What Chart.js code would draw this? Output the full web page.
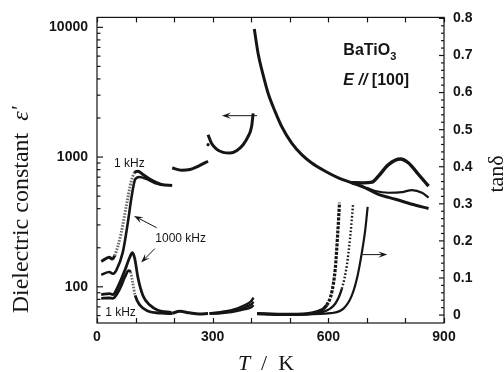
<!DOCTYPE html>
<html>
<head>
<meta charset="utf-8">
<script src="https://cdn.jsdelivr.net/npm/chart.js@4/dist/chart.umd.min.js"></script>
<style>
  html, body { margin: 0; padding: 0; background: #fff; }
  #wrap { width: 504px; height: 372px; }
</style>
</head>
<body>
<div id="wrap"><canvas id="c" width="504" height="372"></canvas></div>
<script>
// ---- Dielectric constant ε' (left, logarithmic axis) ----
const tEps1kLow   = [11, 32, 39, 46, 63, 76, 89, 97, 106, 119, 141, 167, 195];
const eps1kLow    = [157, 169, 164, 174, 262, 420, 652, 756, 778, 734, 664, 615, 605];
const tEps1MLow   = [11, 32, 41, 50, 67, 80, 90, 99, 110, 128, 150, 167];
const eps1MLow    = [124, 130, 126, 134, 185, 313, 501, 673, 703, 679, 631, 612];
const tEpsOrtho   = [195, 219, 241, 262, 288];
const epsOrtho    = [824, 792, 802, 849, 929];
const tEpsTetra   = [288, 297, 310, 327, 345, 362, 379, 392, 401, 405];
const epsTetra    = [1486, 1280, 1152, 1087, 1074, 1120, 1245, 1442, 1718, 2172];
const tEpsDot     = [288];
const epsDot      = [1245];
const tEpsCubic   = [408, 418, 431, 444, 462, 479, 505, 531, 557, 592, 626, 661, 696, 730, 774, 817, 860];
const epsCubic    = [9700, 6250, 4280, 3090, 2240, 1720, 1280, 1045, 900, 778, 692, 634, 580, 516, 473, 433, 401];
const tEpsHumpA   = [661, 690, 713, 730, 756, 787, 808, 834, 860];
const epsHumpA    = [634, 632, 640, 713, 875, 966, 900, 734, 597];
const tEpsHumpB   = [700, 722, 756, 791, 817, 843, 860];
const epsHumpB    = [580, 548, 531, 537, 557, 531, 487];

// ---- Loss tangent tanδ (right, linear axis) ----
const tTan1MLow   = [11, 32, 41, 54, 72, 85, 92, 98, 106, 119, 137, 158, 193];
const tan1MLow    = [0.055, 0.058, 0.055, 0.076, 0.120, 0.156, 0.168, 0.152, 0.102, 0.053, 0.027, 0.013, 0.007];
const tTan1kLow   = [11, 32, 41, 59, 72, 82, 87, 93, 99, 111, 132, 167, 195];
const tan1kLow    = [0.045, 0.046, 0.045, 0.071, 0.102, 0.120, 0.116, 0.085, 0.053, 0.027, 0.011, 0.005, 0.004];
const tTanOrtho   = [195, 215, 240, 265, 288];
const tanOrtho    = [0.005, 0.010, 0.006, 0.003, 0.004];
const tTanTetra   = [292, 320, 349, 384, 400, 406];
const tanTetraA   = [0.005, 0.008, 0.013, 0.027, 0.038, 0.047];
const tanTetraB   = [0.004, 0.006, 0.011, 0.021, 0.029, 0.036];
const tanTetraC   = [0.004, 0.005, 0.008, 0.016, 0.021, 0.027];
const tTanCubicA  = [415, 470, 518, 570, 596, 609, 618, 624, 629];
const tanCubicA   = [0.004, 0.002, 0.002, 0.009, 0.027, 0.062, 0.125, 0.214, 0.303];
const tTanCubicB  = [415, 520, 587, 618, 635, 648, 657, 664];
const tanCubicB   = [0.004, 0.002, 0.009, 0.031, 0.071, 0.134, 0.214, 0.297];
const tTanCubicC  = [415, 540, 605, 640, 661, 676, 687, 696, 702];
const tanCubicC   = [0.003, 0.002, 0.005, 0.018, 0.053, 0.107, 0.169, 0.232, 0.292];

// ---- Axis ticks ----
const xLabelTicks   = [0, 300, 600, 900];
const xMarkTicks    = [0, 100, 200, 300, 400, 500, 600, 700, 800, 900];
const epsLabelTicks = [100, 1000, 10000];
const epsMinorTicks = [60, 70, 80, 90, 200, 300, 400, 500, 600, 700, 800, 900,
                       2000, 3000, 4000, 5000, 6000, 7000, 8000, 9000];
const tanLabelTicks = [0, 0.1, 0.2, 0.3, 0.4, 0.5, 0.6, 0.7, 0.8];
const tanMinorTicks = [];
for (let i = 0; i <= 40; i++) if (i % 5) tanMinorTicks.push(i / 50);

const INK = '#151515';
const serif = '"Liberation Serif", "Times New Roman", serif';
const sans = '"Liberation Sans", Arial, sans-serif';

const pts = (xs, ys) => xs.map((x, i) => ({ x, y: ys[i] }));
const isSteep = c => Math.abs(c.p1.y - c.p0.y) > 2.5 * Math.abs(c.p1.x - c.p0.x);

function curve(xs, ys, axis, width, opts = {}) {
  const ds = {
    data: pts(xs, ys), yAxisID: axis,
    borderColor: INK, borderWidth: width,
    pointRadius: 0, tension: 0.4, cubicInterpolationMode: 'monotone',
    fill: false
  };
  if (opts.steepDash) {
    ds.segment = {
      borderDash: c => isSteep(c) ? opts.steepDash : undefined,
      borderColor: c => isSteep(c) ? (opts.steepColor || INK) : INK
    };
  }
  return ds;
}

const datasets = [
  curve(tEps1kLow, eps1kLow, 'eps', 3, { steepDash: [1.6, 1.4], steepColor: '#6a6a6a' }),
  curve(tEps1MLow, eps1MLow, 'eps', 2.6),
  curve(tEpsOrtho, epsOrtho, 'eps', 3),
  curve(tEpsTetra, epsTetra, 'eps', 3),
  { data: pts(tEpsDot, epsDot), yAxisID: 'eps', showLine: false,
    pointRadius: 1.6, pointBackgroundColor: INK, pointBorderWidth: 0 },
  curve(tEpsCubic, epsCubic, 'eps', 3),
  curve(tEpsHumpA, epsHumpA, 'eps', 3.4),
  curve(tEpsHumpB, epsHumpB, 'eps', 2.2),
  curve(tTan1MLow, tan1MLow, 'tan', 2.8),
  curve(tTan1kLow, tan1kLow, 'tan', 2.8, { steepDash: [1.6, 1.4], steepColor: '#6a6a6a' }),
  curve(tTanOrtho, tanOrtho, 'tan', 3),
  curve(tTanTetra, tanTetraA, 'tan', 2.4),
  curve(tTanTetra, tanTetraB, 'tan', 2.4),
  curve(tTanTetra, tanTetraC, 'tan', 2.4),
  curve(tTanCubicA, tanCubicA, 'tan', 3.2, { steepDash: [3, 1.3] }),
  curve(tTanCubicB, tanCubicB, 'tan', 2.4, { steepDash: [1.6, 2] }),
  curve(tTanCubicC, tanCubicC, 'tan', 2.2)
];

// Text labels and arrows, placed in data coordinates
const notes = [
  { text: '1 kHz',    x: 84,  y: 896,  axis: 'eps' },
  { text: '1000 kHz', x: 217, y: 235,  axis: 'eps' },
  { text: '1 kHz',    x: 61,  y: 62.7, axis: 'eps' }
];
const arrows = [
  { from: [155, 285],  to: [96, 352],   axis: 'eps' },
  { from: [150, 197],  to: [114.5, 154], axis: 'eps' },
  { from: [415, 2085], to: [324, 2085], axis: 'eps' },
  { from: [688, 0.163], to: [753, 0.163], axis: 'tan' }
];

function drawRuns(ctx, runs, x, y, align) {
  let total = 0;
  runs.forEach(r => { ctx.font = r.font; r.w = ctx.measureText(r.text).width + (r.gap || 0); total += r.w; });
  let cx = align === 'center' ? x - total / 2 : x;
  runs.forEach(r => { ctx.font = r.font; ctx.fillText(r.text, cx, y + (r.dy || 0)); cx += r.w; });
}

function arrow(ctx, x0, y0, x1, y1) {
  const ang = Math.atan2(y1 - y0, x1 - x0);
  const hl = 9, hw = 3.2;
  ctx.beginPath();
  ctx.moveTo(x0, y0);
  ctx.lineTo(x1 - Math.cos(ang) * hl * 0.6, y1 - Math.sin(ang) * hl * 0.6);
  ctx.stroke();
  ctx.beginPath();
  ctx.moveTo(x1, y1);
  ctx.lineTo(x1 - Math.cos(ang) * hl - Math.sin(ang) * hw, y1 - Math.sin(ang) * hl + Math.cos(ang) * hw);
  ctx.lineTo(x1 - Math.cos(ang) * hl * 0.6, y1 - Math.sin(ang) * hl * 0.6);
  ctx.lineTo(x1 - Math.cos(ang) * hl + Math.sin(ang) * hw, y1 - Math.sin(ang) * hl - Math.cos(ang) * hw);
  ctx.closePath();
  ctx.fill();
}

const decorations = {
  id: 'decorations',
  afterDraw(chart) {
    const { ctx, chartArea: a, scales } = chart;
    const sx = scales.x, se = scales.eps, st = scales.tan;
    ctx.save();
    ctx.strokeStyle = INK; ctx.fillStyle = INK; ctx.lineWidth = 1.2;
    // frame
    ctx.strokeRect(a.left, a.top, a.right - a.left, a.bottom - a.top);
    const seg = (x0, y0, x1, y1) => { ctx.beginPath(); ctx.moveTo(x0, y0); ctx.lineTo(x1, y1); ctx.stroke(); };
    // inward tick marks
    xMarkTicks.forEach(v => {
      const p = Math.round(sx.getPixelForValue(v)) + 0.5;
      seg(p, a.bottom, p, a.bottom - 5);
      seg(p, a.top, p, a.top + 5);
    });
    epsLabelTicks.forEach(v => { const p = se.getPixelForValue(v); seg(a.left, p, a.left + 6, p); });
    epsMinorTicks.forEach(v => { const p = se.getPixelForValue(v); seg(a.left, p, a.left + 3.5, p); });
    tanLabelTicks.forEach(v => { const p = st.getPixelForValue(v); seg(a.right, p, a.right - 5, p); });
    tanMinorTicks.forEach(v => { const p = st.getPixelForValue(v); seg(a.right, p, a.right - 3, p); });

    // annotations
    ctx.lineWidth = 1;
    ctx.textAlign = 'center'; ctx.textBaseline = 'middle';
    ctx.font = '12px ' + sans;
    notes.forEach(n => {
      ctx.fillText(n.text, sx.getPixelForValue(n.x), scales[n.axis].getPixelForValue(n.y));
    });
    arrows.forEach(r => {
      const ys = scales[r.axis];
      arrow(ctx, sx.getPixelForValue(r.from[0]), ys.getPixelForValue(r.from[1]),
                 sx.getPixelForValue(r.to[0]), ys.getPixelForValue(r.to[1]));
    });

    // sample label
    ctx.textAlign = 'left'; ctx.textBaseline = 'alphabetic';
    const lx = sx.getPixelForValue(639);
    drawRuns(ctx, [
      { text: 'BaTiO', font: 'bold 16px ' + sans },
      { text: '3', font: 'bold 11px ' + sans, dy: 5 }
    ], lx, se.getPixelForValue(6790) + 6, 'left');
    drawRuns(ctx, [
      { text: 'E', font: 'italic bold 16px ' + sans },
      { text: ' // ', font: 'italic bold 16px ' + sans },
      { text: '[100]', font: 'bold 16px ' + sans }
    ], lx, se.getPixelForValue(4000) + 6, 'left');

    // axis titles
    ctx.save();
    ctx.translate(28, 210);
    ctx.rotate(-Math.PI / 2);
    ctx.textAlign = 'left';
    drawRuns(ctx, [
      { text: 'Dielectric constant  ', font: '24px ' + serif },
      { text: 'ε', font: 'italic 24px ' + serif },
      { text: "'", font: 'italic 22px ' + serif, dy: -2 }
    ], 0, 0, 'center');
    ctx.restore();

    ctx.save();
    ctx.translate(503, 174);
    ctx.rotate(-Math.PI / 2);
    drawRuns(ctx, [
      { text: 'tan', font: '22px ' + serif },
      { text: 'δ', font: '22px ' + serif }
    ], 0, 0, 'center');
    ctx.restore();

    drawRuns(ctx, [
      { text: 'T', font: 'italic 22px ' + serif },
      { text: '  /  ', font: '22px ' + serif },
      { text: 'K', font: '22px ' + serif }
    ], 266, 370, 'center');

    ctx.restore();
  }
};

const tickFont = { family: sans, size: 14, weight: 'bold' };

new Chart(document.getElementById('c'), {
  type: 'line',
  data: { datasets },
  options: {
    responsive: false,
    animation: false,
    devicePixelRatio: 1,
    layout: { padding: { top: 15, left: 0, right: 0, bottom: 0 } },
    plugins: { legend: { display: false }, tooltip: { enabled: false } },
    scales: {
      x: {
        type: 'linear', min: 0, max: 900,
        grid: { display: false, drawTicks: false },
        border: { display: false },
        afterBuildTicks: s => { s.ticks = xLabelTicks.map(v => ({ value: v })); },
        afterFit: s => { s.height = 49; },
        ticks: { color: INK, font: tickFont, padding: 6, maxRotation: 0, autoSkip: false,
                 callback: v => String(v) }
      },
      eps: {
        type: 'logarithmic', position: 'left', min: 52.6, max: 11929,
        grid: { display: false, drawTicks: false },
        border: { display: false },
        afterBuildTicks: s => { s.ticks = epsLabelTicks.map(v => ({ value: v })); },
        afterFit: s => { s.width = 97; },
        ticks: { color: INK, font: tickFont, padding: 9, autoSkip: false,
                 callback: v => String(v) }
      },
      tan: {
        type: 'linear', position: 'right', min: -0.0214, max: 0.8027,
        grid: { display: false, drawTicks: false },
        border: { display: false },
        afterBuildTicks: s => { s.ticks = tanLabelTicks.map(v => ({ value: v })); },
        afterFit: s => { s.width = 60; },
        ticks: { color: INK, font: tickFont, padding: 9, autoSkip: false,
                 callback: v => (v === 0 ? '0' : v.toFixed(1)) }
      }
    }
  },
  plugins: [decorations]
});
</script>
</body>
</html>
